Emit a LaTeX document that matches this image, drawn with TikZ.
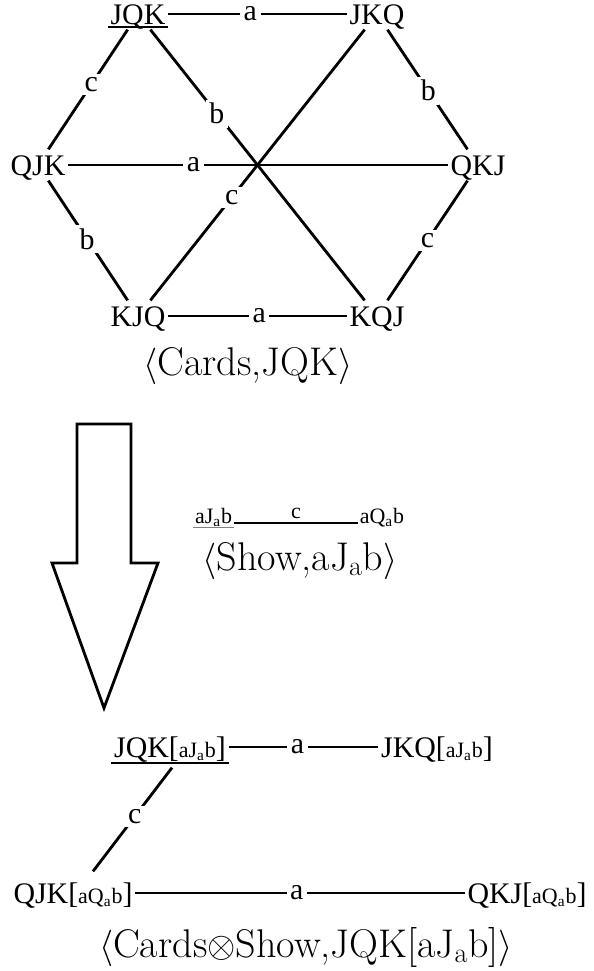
\documentclass[tikz,border=0pt]{standalone}
\usepackage{fontspec}
\usepackage{tikz}
\usetikzlibrary{positioning}
\newfontfamily\timesfont{Liberation Serif}
\newcommand{\cardsize}{\timesfont\fontsize{17}{20}\selectfont}
\newcommand{\showsize}{\timesfont\fontsize{12.5}{15}\selectfont}
\newcommand{\capsize}{\fontsize{22.8}{27}\selectfont}

\begin{document}
\begin{tikzpicture}[x=0.02cm, y=-0.02cm,
  card/.style={font=\cardsize, inner xsep=1.5pt, inner ysep=3pt, text height=11.4pt, text depth=0pt},
  showst/.style={font=\showsize, inner xsep=1pt, inner ysep=1pt},
  lbl/.style={font=\cardsize, fill=white, inner sep=2pt},
  smalllbl/.style={font=\showsize, above=1pt, inner sep=1pt},
  link/.style={line width=1.6pt},
  thinlink/.style={line width=0.8pt},
  uline/.style={line width=1pt},
  captext/.style={font=\capsize, inner sep=0pt},
  bigarrow/.style={line width=1.6pt, line join=miter}
]
\useasboundingbox (0,0) rectangle (593,971);

% the six orders of the cards
\node[card] (jqk) at (138,14) {JQK};
\node[card] (jkq) at (377,14) {JKQ};
\node[card] (qjk) at (38,165) {QJK};
\node[card] (qkj) at (478,165) {QKJ};
\node[card] (kjq) at (138,316) {KJQ};
\node[card] (kqj) at (377,316) {KQJ};
\draw[uline] ([yshift=-1.7pt]jqk.base west) -- ([yshift=-1.7pt]jqk.base east);

\draw[link] (jqk) -- node[lbl, pos=0.46] {a} (jkq);
\draw[link] (jqk) -- node[lbl, pos=0.46] {c} (qjk);
\draw[link] (jqk) -- node[lbl, pos=0.31] {b} (kqj);
\draw[link] (jkq) -- node[lbl, pos=0.51] {b} (qkj);
\draw[link] (jkq) -- node[lbl, pos=0.62] {c} (kjq);
\draw[link] (qjk) -- node[lbl, pos=0.33] {a} (qkj);
\draw[link] (qjk) -- node[lbl, pos=0.49] {b} (kjq);
\draw[link] (qkj) -- node[lbl, pos=0.5] {c} (kqj);
\draw[link] (kjq) -- node[lbl, pos=0.51] {a} (kqj);

\node[captext] (cards) at (248,366) {$\langle$Cards,JQK$\rangle$};

% the big arrow
\draw[bigarrow] (77,424) -- (131,424) -- (131,563) -- (158,563) -- (104,708) -- (52,563) -- (77,563) -- cycle;

% the show
\node[showst, anchor=base] (sj) at (213.5,523) {aJ\textsubscript{a}b};
\node[showst, anchor=base] (sq) at (382,523) {aQ\textsubscript{a}b};
\draw[gray, line width=0.6pt] ([yshift=-2.3pt]sj.base west) -- ([yshift=-2.3pt]sj.base east);
\draw[thinlink] (sj.base east) -- node[smalllbl] {c} (sq.base west);
\node[captext] (show) at (300,561) {$\langle$Show,aJ\textsubscript{a}b$\rangle$};

% the product
\node[card] (pjqk) at (170,747) {JQK[{\showsize aJ\textsubscript{a}b}]};
\node[card] (pjkq) at (437,747) {JKQ[{\showsize aJ\textsubscript{a}b}]};
\node[card] (pqjk) at (73,893) {QJK[{\showsize aQ\textsubscript{a}b}]};
\node[card] (pqkj) at (527,893) {QKJ[{\showsize aQ\textsubscript{a}b}]};
\draw[uline] ([yshift=-3.4pt]pjqk.base west) -- ([yshift=-3.4pt]pjqk.base east);

\draw[link] (pjqk) -- node[lbl, pos=0.46] {a} (pjkq);
\draw[link] ([shift={(2,5)}]pjqk.south) -- node[lbl, pos=0.47] {c} ([shift={(20,-6)}]pqjk.north);
\draw[link] (pqjk) -- node[lbl, pos=0.49] {a} (pqkj);

\node[captext] (prod) at (306,947) {$\langle$Cards$\otimes$Show,JQK[aJ\textsubscript{a}b]$\rangle$};
\end{tikzpicture}
\end{document}
